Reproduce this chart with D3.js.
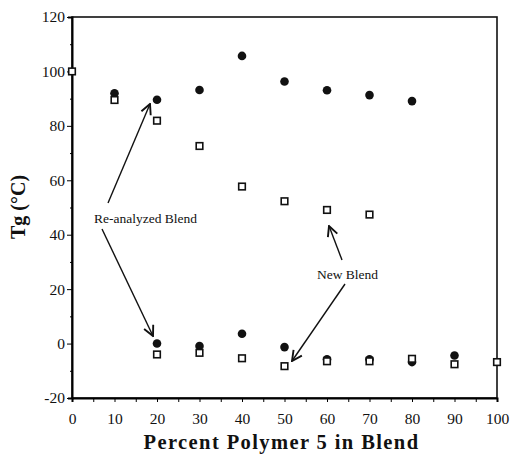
<!DOCTYPE html>
<html>
<head>
<meta charset="utf-8">
<script src="https://d3js.org/d3.v7.min.js"></script>
<style>
  body { margin: 0; background: #fff; }
  .chart text { font-family: "Liberation Serif", "DejaVu Serif", serif; fill: #111; }
</style>
</head>
<body>
<div class="chart"></div>
<script>
// percent polymer 5 in blend
var upperCircleX = [10, 20, 30, 40, 50, 60, 70, 80];
var upperCircleTg = [92, 89.6, 93.2, 105.7, 96.3, 93.1, 91.3, 89.1];
var upperSquareX = [0, 10, 20, 30, 40, 50, 60, 70];
var upperSquareTg = [100, 89.5, 81.9, 72.6, 57.7, 52.3, 49.1, 47.4];
var lowerCircleX = [20, 30, 40, 50, 60, 70, 80, 90];
var lowerCircleTg = [0, -0.9, 3.6, -1.3, -5.8, -5.8, -6.8, -4.4];
var lowerSquareX = [20, 30, 40, 50, 60, 70, 80, 90, 100];
var lowerSquareTg = [-4, -3.4, -5.4, -8.3, -6.5, -6.5, -5.6, -7.6, -6.8];

var yTicks = [-20, 0, 20, 40, 60, 80, 100, 120];
var xTicks = [0, 10, 20, 30, 40, 50, 60, 70, 80, 90, 100];

var width = 512;
var height = 454;
var margin = {left: 72, right: 15, top: 17, bottom: 56};
var serif = "'Liberation Serif', 'DejaVu Serif', serif";

var svg = d3.select(".chart").append("svg")
    .attr("width", width)
    .attr("height", height);

var x = d3.scaleLinear()
    .domain([0, 100])
    .range([margin.left, width - margin.right]);
var y = d3.scaleLinear()
    .domain([-20, 120])
    .range([height - margin.bottom, margin.top]);

// frame
svg.append("rect")
    .attr("x", x(0))
    .attr("y", y(120))
    .attr("width", x(100) - x(0))
    .attr("height", y(-20) - y(120))
    .attr("fill", "none")
    .attr("stroke", "#111")
    .attr("stroke-width", 1.6);

// Axes
var xAxis = svg.append("g")
    .attr("transform", "translate(0," + y(-20) + ")")
    .attr("font-family", serif)
    .call(d3.axisBottom(x).tickValues(d3.range(0, 101, 5)).tickSize(4)
        .tickFormat(function (d) { return xTicks.indexOf(d) >= 0 ? d : ""; }));
xAxis.attr("font-family", serif);
xAxis.select(".domain").attr("stroke-width", 2);
xAxis.selectAll("text").attr("font-size", 15.5).attr("dy", "1.2em");

var yAxis = svg.append("g")
    .attr("transform", "translate(" + x(0) + ",0)")
    .call(d3.axisLeft(y).tickValues(d3.range(-20, 121, 10)).tickSize(4)
        .tickFormat(function (d) { return yTicks.indexOf(d) >= 0 ? d : ""; }));
yAxis.attr("font-family", serif);
yAxis.select(".domain").attr("stroke-width", 2);
yAxis.selectAll(".tick line").attr("x2", function (d) { return d % 20 === 0 ? -5 : -2; });
yAxis.selectAll("text").attr("font-size", 15.5).attr("x", -7);

// axis titles
svg.append("text")
    .attr("x", (x(0) + x(100)) / 2 - 3)
    .attr("y", 449)
    .attr("text-anchor", "middle")
    .attr("font-size", 20.5)
    .attr("font-weight", "bold")
    .attr("letter-spacing", 1.4)
    .text("Percent Polymer 5 in Blend");
svg.append("text")
    .attr("transform", "translate(25," + 207 + ") rotate(-90)")
    .attr("text-anchor", "middle")
    .attr("font-size", 20)
    .attr("font-weight", "bold")
    .text("Tg (°C)");

function circles(xs, ys) {
    svg.append("g").selectAll("circle")
        .data(xs)
        .enter().append("circle")
        .attr("cx", function (d) { return x(d); })
        .attr("cy", function (d, i) { return y(ys[i]); })
        .attr("r", 4.3)
        .attr("fill", "#111");
}
function squares(xs, ys) {
    svg.append("g").selectAll("rect")
        .data(xs)
        .enter().append("rect")
        .attr("x", function (d) { return x(d) - 3.3; })
        .attr("y", function (d, i) { return y(ys[i]) - 3.3; })
        .attr("width", 6.6)
        .attr("height", 6.6)
        .attr("fill", "#fff")
        .attr("stroke", "#111")
        .attr("stroke-width", 1.6);
}
circles(upperCircleX, upperCircleTg);
circles(lowerCircleX, lowerCircleTg);
squares(upperSquareX, upperSquareTg);
squares(lowerSquareX, lowerSquareTg);

// annotations
svg.append("defs").append("marker")
    .attr("id", "head")
    .attr("viewBox", "0 0 10 10")
    .attr("refX", 9).attr("refY", 5)
    .attr("markerWidth", 9).attr("markerHeight", 9)
    .attr("orient", "auto")
    .append("path")
    .attr("d", "M1,1 L9,5 L1,9")
    .attr("fill", "none")
    .attr("stroke", "#111")
    .attr("stroke-width", 1.5);

var arrows = [
    [108, 203, 150, 104],
    [102, 229, 153, 336],
    [342, 260, 329, 226],
    [345, 284, 292, 361]
];
svg.append("g").selectAll("line")
    .data(arrows)
    .enter().append("line")
    .attr("x1", function (d) { return d[0]; })
    .attr("y1", function (d) { return d[1]; })
    .attr("x2", function (d) { return d[2]; })
    .attr("y2", function (d) { return d[3]; })
    .attr("stroke", "#111")
    .attr("stroke-width", 1.4)
    .attr("marker-end", "url(#head)");

svg.append("text")
    .attr("x", 94).attr("y", 223)
    .attr("font-size", 13.5)
    .text("Re-analyzed Blend");
svg.append("text")
    .attr("x", 317).attr("y", 279)
    .attr("font-size", 13.5)
    .text("New Blend");
</script>
</body>
</html>
